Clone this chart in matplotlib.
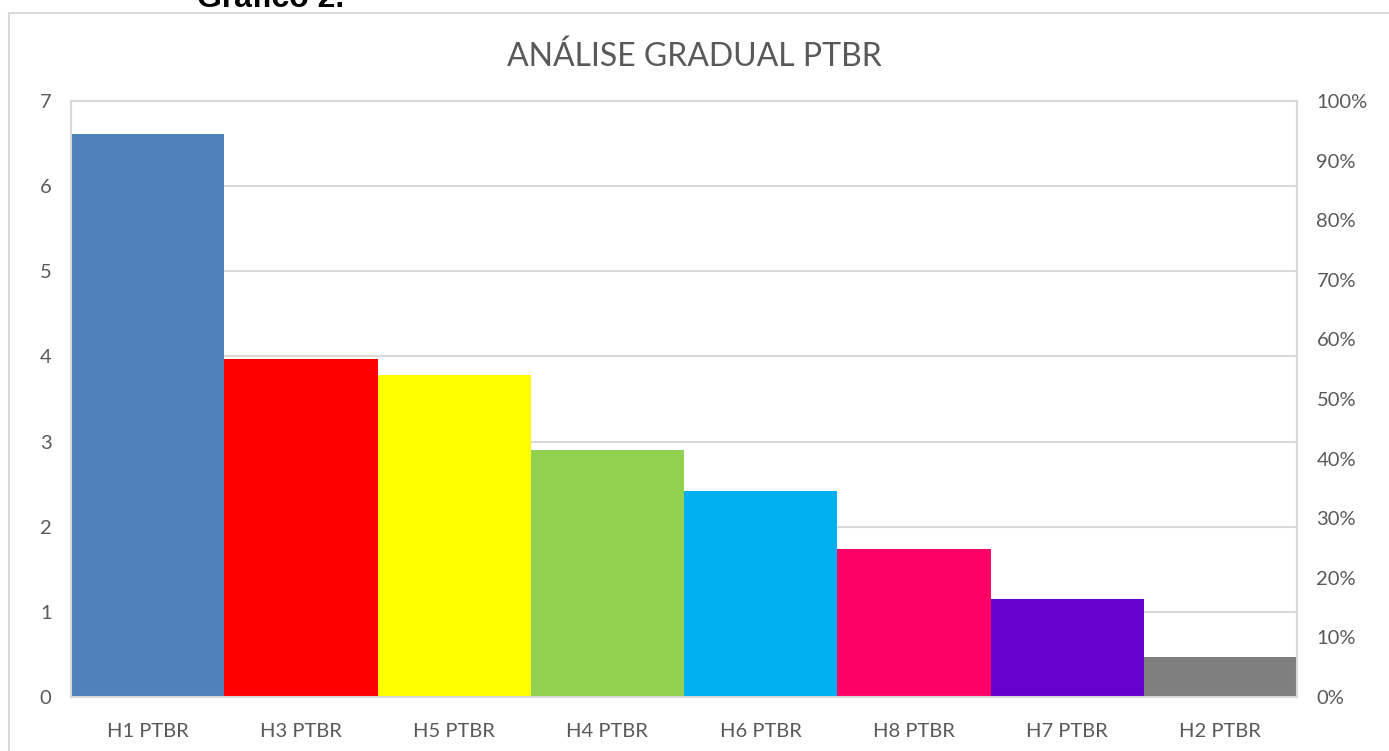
import matplotlib.pyplot as plt
from matplotlib.lines import Line2D
from matplotlib.ticker import PercentFormatter

plt.rcParams['font.family'] = ['Lato', 'DejaVu Sans']

categorias = ['H1 PTBR', 'H3 PTBR', 'H5 PTBR', 'H4 PTBR', 'H6 PTBR', 'H8 PTBR', 'H7 PTBR', 'H2 PTBR']
valores = [6.61, 3.97, 3.78, 2.90, 2.42, 1.74, 1.15, 0.47]
cores = ['#4F81BD', '#FF0000', '#FFFF00', '#92D050', '#00B0F0', '#FF0066', '#6600CC', '#7F7F7F']

cinza_txt = '#595959'
cinza_linha = '#D9D9D9'

fig = plt.figure(figsize=(13.89, 7.51), dpi=100)
ax = fig.add_axes([71/1389, 1 - 697/751, (1297-71)/1389, (697-101)/751])

x = list(range(len(categorias)))
ax.bar(x, valores, width=1.0, color=cores, edgecolor='none', zorder=3)
ax.set_xlim(-0.5, len(categorias) - 0.5)
ax.set_ylim(0, 7)
ax.set_yticks(range(0, 8))
ax.set_xticks(x)
ax.set_xticklabels(categorias)
ax.grid(axis='y', color=cinza_linha, linewidth=1.5, zorder=0)
ax.tick_params(axis='both', length=0, labelsize=14.5, colors=cinza_txt)
ax.tick_params(axis='y', pad=14)
ax.tick_params(axis='x', pad=19)
for s in ax.spines.values():
    s.set_color(cinza_linha)
    s.set_linewidth(1.5)

ax2 = ax.twinx()
ax2.set_ylim(0, 1)
ax2.set_yticks([i / 10 for i in range(11)])
ax2.yaxis.set_major_formatter(PercentFormatter(1.0, decimals=0))
ax2.tick_params(axis='y', length=0, labelsize=14.5, colors=cinza_txt, pad=14)
for s in ax2.spines.values():
    s.set_color(cinza_linha)
    s.set_linewidth(1.5)

fig.text(0.5, 1 - 57/751, 'ANÁLISE GRADUAL PTBR', ha='center', va='center',
         fontsize=23, color=cinza_txt)

# titulo cortado no topo, como no original
fig.text(197/1389, 1 - 7/751, 'Gráfico 2.', ha='left', va='baseline',
         fontsize=23, fontweight='bold', color='black', family=['Liberation Sans', 'DejaVu Sans'])

# borda do grafico
fig.add_artist(Line2D([9/1389, 1], [1 - 13/751, 1 - 13/751], color=cinza_linha, linewidth=1.5))
fig.add_artist(Line2D([9/1389, 9/1389], [0, 1 - 13/751], color=cinza_linha, linewidth=1.5))

fig.savefig('out.png', dpi=100)
